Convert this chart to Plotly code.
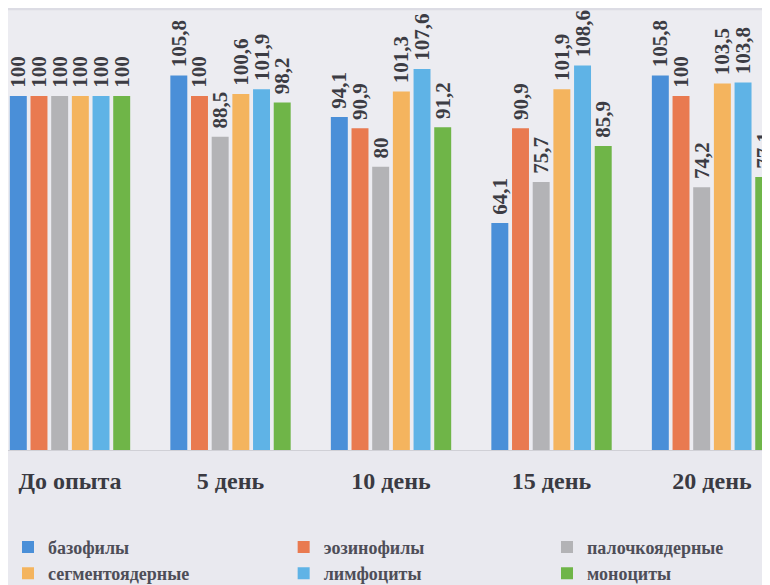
import plotly.graph_objects as go

categories = ["До опыта", "5 день", "10 день", "15 день", "20 день"]
series_names = ["базофилы", "эозинофилы", "палочкоядерные",
                "сегментоядерные", "лимфоциты", "моноциты"]
bazofily = [100, 105.8, 94.1, 64.1, 105.8]
eozinofily = [100, 100, 90.9, 90.9, 100]
palochkoyadernye = [100, 88.5, 80, 75.7, 74.2]
segmentoyadernye = [100, 100.6, 101.3, 101.9, 103.5]
limfotsity = [100, 101.9, 107.6, 108.6, 103.8]
monotsity = [100, 98.2, 91.2, 85.9, 77.1]

values = [bazofily, eozinofily, palochkoyadernye, segmentoyadernye, limfotsity, monotsity]
colors = ["#4a8fd8", "#e97a50", "#b3b3b6", "#f4b45e", "#5fb3e6", "#6fb548"]
legend_ids = ["legend", "legend2", "legend3", "legend", "legend2", "legend3"]

SERIF = "Liberation Serif, Times New Roman, serif"
NBSP = "\u00a0"

def fmt(v):
    s = ("%g" % v)
    return NBSP + s.replace(".", ",")

fig = go.Figure()
x_idx = list(range(len(categories)))
for name, vals, col, lg in zip(series_names, values, colors, legend_ids):
    fig.add_trace(go.Bar(
        name=name, x=x_idx, y=vals, marker_color=col, marker_line_width=0,
        text=[fmt(v) for v in vals], textposition="outside", textangle=-90,
        constraintext="none", cliponaxis=False, legend=lg,
        textfont=dict(family=SERIF, size=21, color="#3c3c44", weight="bold"),
    ))

legend_font = dict(family=SERIF, size=18, color="#4e4e58", weight="bold")
common = dict(orientation="v", yanchor="top", y=-0.178, xanchor="left",
              font=dict(legend_font), bgcolor="rgba(0,0,0,0)", traceorder="normal",
              tracegroupgap=0, itemsizing="constant", itemwidth=30)

fig.update_layout(
    width=770, height=585,
    margin=dict(l=0, r=0, t=0, b=143, autoexpand=False),
    paper_bgcolor="#e9e9ef", plot_bgcolor="#ececf1",
    barmode="group", bargap=0.227, bargroupgap=0.18,
    showlegend=True,
    legend=dict(x=0.0, **common),
    legend2=dict(x=0.358, **common),
    legend3=dict(x=0.700, **common),
    shapes=[dict(type="rect", xref="paper", yref="paper", x0=0, x1=1, y0=1, y1=0.995,
                 fillcolor="#dcdce4", line_width=0, layer="below")],
)
fig.update_xaxes(tickmode="array", tickvals=x_idx, ticktext=categories,
                 range=[-0.3863, 4.411], showgrid=False, zeroline=False,
                 showline=True, linecolor="#d0d0d6", linewidth=1,
                 ticks="", ticklabelstandoff=9,
                 tickfont=dict(family=SERIF, size=24, color="#3a3a42", weight="bold"))
fig.update_yaxes(range=[0, 124.86], visible=False, showgrid=False)

fig.write_html("out.html")
